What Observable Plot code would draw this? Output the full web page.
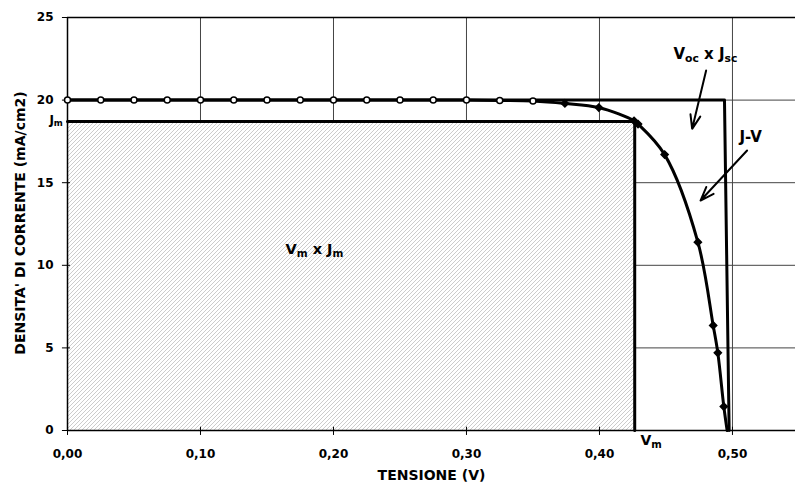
<!DOCTYPE html>
<html>
<head>
<meta charset="utf-8">
<script src="https://cdn.jsdelivr.net/npm/d3@7"></script>
<script src="https://cdn.jsdelivr.net/npm/@observablehq/plot@0.6"></script>
<style>
  html, body { margin: 0; padding: 0; background: #fff; }
</style>
</head>
<body>
<div id="chart"></div>
<script>
// ---- data ----
const xTicks = [0, 0.1, 0.2, 0.3, 0.4, 0.5];
const yTicks = [0, 5, 10, 15, 20, 25];

// J-V curve: flat part (open markers) and knee (filled diamonds)
const jvFlatV = [0, 0.025, 0.05, 0.075, 0.1, 0.125, 0.15, 0.175, 0.2, 0.225, 0.25, 0.275, 0.3, 0.325, 0.35];
const jvFlatJ = [20, 20, 20, 20, 20, 20, 20, 20, 20, 20, 20, 20, 20, 19.98, 19.95];
const jvKneeV = [0.374, 0.3995, 0.426, 0.429, 0.449, 0.474, 0.4855, 0.489, 0.4935, 0.496];
const jvKneeJ = [19.8, 19.55, 18.75, 18.55, 16.7, 11.4, 6.36, 4.7, 1.45, 0];

// Voc x Jsc rectangle outline
const rectScV = [0, 0.494, 0.4975];
const rectScJ = [20, 20, 0];

// Vm x Jm rectangle
const Vm = 0.4265;
const Jm = 18.7;
const rectMV = [0, Vm, Vm];
const rectMJ = [Jm, Jm, 0];

// annotations
const labels = [
  {text: "V_{oc} x J_{sc}", v: 0.4556, j: 22.8, size: 15, anchor: "start"},
  {text: "J-V", v: 0.5053, j: 17.75, size: 15, anchor: "start"},
  {text: "V_{m} x J_{m}", v: 0.1639, j: 10.96, size: 14.5, anchor: "start"},
  {text: "J_{m}", v: -0.0035, j: 18.8, size: 12, anchor: "end"},
  {text: "V_{m}", v: 0.4308, j: -0.62, size: 14, anchor: "start"}
];
const arrows = [
  {v1: 0.4802, j1: 21.79, v2: 0.4697, j2: 18.26},
  {v1: 0.511, j1: 16.95, v2: 0.476, j2: 13.92}
];

// ---- build tables ----
const zip = (a, b) => a.map((v, i) => ({v, j: b[i]}));
const jvFlat = zip(jvFlatV, jvFlatJ);
const jvKnee = zip(jvKneeV, jvKneeJ);
const jvAll = jvFlat.concat(jvKnee);
const rectSc = zip(rectScV, rectScJ);
const rectM = zip(rectMV, rectMJ);

const fmt = d => d.toFixed(2).replace(".", ",");
const FONT = "DejaVu Sans";

const chart = Plot.plot({
  width: 795,
  height: 489,
  marginLeft: 67,
  marginRight: 0,
  marginTop: 17,
  marginBottom: 59,
  style: {fontFamily: FONT, fontSize: "12px", fontWeight: "bold", color: "#000", background: "#fff", overflow: "visible"},
  x: {domain: [0, 0.5474], ticks: xTicks, tickFormat: fmt, tickSize: 0, tickPadding: 19, label: null},
  y: {domain: [0, 25], ticks: yTicks, tickFormat: d => String(d), tickSize: 0, tickPadding: 14, label: null},
  marks: [
    // grid
    Plot.ruleX(xTicks.filter(d => d > 0), {stroke: "#444", strokeWidth: 1}),
    Plot.ruleY(yTicks.filter(d => d > 0 && d < 25), {stroke: "#444", strokeWidth: 1}),
    Plot.ruleY([25], {stroke: "#000", strokeWidth: 1.3}),
    // hatched area Vm x Jm
    Plot.rect([{x1: 0, x2: Vm, y1: 0, y2: Jm}], {x1: "x1", x2: "x2", y1: "y1", y2: "y2", fill: "url(#hatch)"}),
    // axes lines
    Plot.ruleY([0], {stroke: "#000", strokeWidth: 1.5}),
    Plot.ruleX([0], {stroke: "#000", strokeWidth: 1.5}),
    // tick marks
    Plot.ruleX(xTicks, {y1: -0.3, y2: 0.2, stroke: "#000", strokeWidth: 1}),
    Plot.ruleY(yTicks, {x1: -0.0038, x2: 0.0023, stroke: "#000", strokeWidth: 1}),
    // rectangles outlines
    Plot.line(rectM, {x: "v", y: "j", stroke: "#000", strokeWidth: 3}),
    Plot.line(rectSc, {x: "v", y: "j", stroke: "#000", strokeWidth: 3}),
    // J-V curve
    Plot.line(jvAll, {x: "v", y: "j", stroke: "#000", strokeWidth: 3, curve: "catmull-rom"}),
    Plot.dot(jvFlat, {x: "v", y: "j", r: 3, fill: "#fff", stroke: "#000", strokeWidth: 1.5}),
    Plot.dot(jvKnee.slice(0, -1), {x: "v", y: "j", r: 3.2, symbol: "diamond2", fill: "#000", stroke: "#000"}),
    // arrows
    Plot.arrow(arrows, {x1: "v1", y1: "j1", x2: "v2", y2: "j2", stroke: "#000", strokeWidth: 2, headLength: 11, headAngle: 40}),
    // annotations
    ...labels.map(l => Plot.text([l], {x: "v", y: "j", text: "text", fontSize: l.size, fontWeight: "bold", textAnchor: l.anchor, fill: "#000"})),
    // axis titles
    Plot.text(["TENSIONE (V)"], {frameAnchor: "bottom", dy: 49.5, fontSize: 14, fontWeight: "bold", fill: "#000"}),
    Plot.text(["DENSITA' DI CORRENTE (mA/cm2)"], {frameAnchor: "left", textAnchor: "middle", dx: -47, dy: -1, rotate: -90, fontSize: 14, fontWeight: "bold", fill: "#000"})
  ]
});

// hatch pattern
const NS = "http://www.w3.org/2000/svg";
const defs = document.createElementNS(NS, "defs");
defs.innerHTML = `<pattern id="hatch" width="4" height="4" patternUnits="userSpaceOnUse">
  <rect width="4" height="4" fill="#fff"/>
  <path d="M-1,1 l2,-2 M0,4 l4,-4 M3,5 l2,-2" stroke="#c6c6c6" stroke-width="0.9"/>
</pattern>`;
chart.insertBefore(defs, chart.firstChild);

// subscripts
chart.querySelectorAll("text").forEach(t => {
  const s = t.textContent;
  if (!s.includes("_{")) return;
  while (t.firstChild) t.removeChild(t.firstChild);
  let shifted = false;
  s.split(/(_\{[^}]*\})/).forEach(p => {
    if (!p) return;
    const ts = document.createElementNS(NS, "tspan");
    if (p.startsWith("_{")) {
      ts.textContent = p.slice(2, -1);
      ts.setAttribute("font-size", "72%");
      ts.setAttribute("dy", "0.3em");
      shifted = true;
    } else {
      ts.textContent = p;
      if (shifted) { ts.setAttribute("dy", "-0.216em"); shifted = false; }
    }
    t.appendChild(ts);
  });
});

document.getElementById("chart").appendChild(chart);
</script>
</body>
</html>
